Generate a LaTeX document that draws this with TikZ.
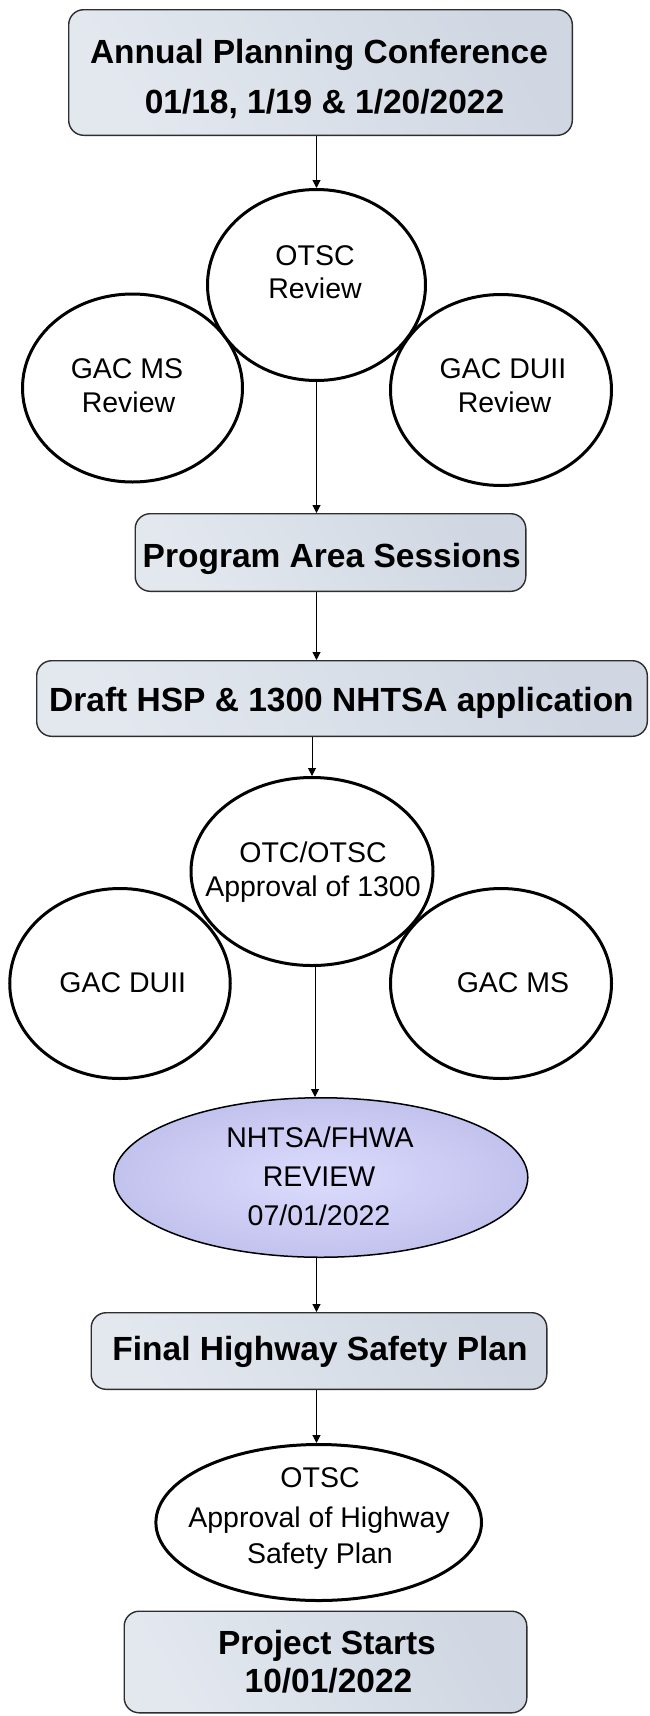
\documentclass[tikz,border=0pt]{standalone}
\usepackage{fontspec}
\setmainfont{Liberation Sans}
\usetikzlibrary{shapes.geometric,arrows.meta}
\definecolor{boxA}{HTML}{E3E8EF}
\definecolor{boxB}{HTML}{D0D7E2}
\definecolor{lavIn}{HTML}{DCDCFE}
\definecolor{lavOut}{HTML}{C2C2EE}
\definecolor{edgegray}{HTML}{2E2E2E}
\begin{document}
\begin{tikzpicture}[x=1pt,y=-1pt,
  boxnode/.style={rectangle, draw=edgegray, line width=1.4pt, rounded corners=15pt,
    inner sep=0pt, left color=boxA, right color=boxB, shading angle=120},
  ringnode/.style={ellipse, draw=black, line width=3pt, fill=white, inner sep=0pt},
  lavnode/.style={ellipse, draw=black, line width=1.5pt, inner sep=0pt,
    inner color=lavIn, outer color=lavOut},
  bold/.style={anchor=base, inner sep=0pt, font=\fontsize{33.5}{40}\selectfont\bfseries},
  reg/.style={anchor=base, inner sep=0pt, font=\fontsize{28.5}{34}\selectfont},
  arr/.style={draw=black, line width=1pt, -{Triangle[length=8pt,width=8pt]}}]
\useasboundingbox (0,0) rectangle (649,1716);
\fill[white] (0,0) rectangle (649,1716);

% boxes
\node[boxnode, minimum width=503.6pt, minimum height=125.6pt] (b1) at (320.5,72.5) {};
\node[boxnode, minimum width=390.6pt, minimum height=77.6pt] (b2) at (330.5,552.5) {};
\node[boxnode, minimum width=610.6pt, minimum height=75.6pt] (b3) at (342,698.5) {};
\node[boxnode, minimum width=455.6pt, minimum height=76.6pt] (b4) at (319,1351) {};
\node[boxnode, minimum width=402.6pt, minimum height=101.6pt] (b5) at (325.5,1662) {};

% group 1 circles
\node[ringnode, minimum width=220pt, minimum height=188pt] (c2) at (132.5,388) {};
\node[ringnode, minimum width=221pt, minimum height=191pt] (c3) at (501,390) {};
\node[ringnode, minimum width=218pt, minimum height=191pt] (c1) at (316.5,285) {};

% group 2 circles
\node[ringnode, minimum width=220.5pt, minimum height=190pt] (c5) at (120,983.5) {};
\node[ringnode, minimum width=221pt, minimum height=190pt] (c6) at (501,983.5) {};
\node[ringnode, minimum width=242pt, minimum height=188pt] (c4) at (312,871.5) {};

% ellipses
\node[lavnode, minimum width=414pt, minimum height=159.5pt] (e1) at (320.8,1177.5) {};
\node[ringnode, minimum width=325.6pt, minimum height=156pt] (e2) at (318.7,1522.5) {};

% texts
\node[bold] (t1a) at (319,63) {Annual Planning Conference};
\node[bold] (t1b) at (324.5,113) {01/18, 1/19 \& 1/20/2022};
\node[bold] (t2) at (331.7,567) {Program Area Sessions};
\node[bold] (t3) at (341.5,711) {Draft HSP \& 1300 NHTSA application};
\node[bold] (t4) at (320,1360) {Final Highway Safety Plan};
\node[bold] (t5a) at (327,1654) {Project Starts};
\node[bold] (t5b) at (328.5,1692) {10/01/2022};

\node[reg] (tc1a) at (315,265) {OTSC};
\node[reg] (tc1b) at (315,298) {Review};
\node[reg] (tc2a) at (127,378) {GAC MS};
\node[reg] (tc2b) at (128.5,412) {Review};
\node[reg] (tc3a) at (503,378) {GAC DUII};
\node[reg] (tc3b) at (504.5,412) {Review};
\node[reg] (tc4a) at (313,862) {OTC/OTSC};
\node[reg] (tc4b) at (313,896) {Approval of 1300};
\node[reg] (tc5) at (122.8,992) {GAC DUII};
\node[reg] (tc6) at (513,992) {GAC MS};
\node[reg] (te1a) at (320,1147) {NHTSA/FHWA};
\node[reg] (te1b) at (319,1186) {REVIEW};
\node[reg] (te1c) at (319,1225) {07/01/2022};
\node[reg] (te2a) at (320,1487) {OTSC};
\node[reg] (te2b) at (319,1527) {Approval of Highway};
\node[reg] (te2c) at (320,1563) {Safety Plan};

% connectors
\draw[arr] (c1.north |- b1.south) -- (c1.north);
\draw[arr] (c1.south) -- (c1.south |- b2.north);
\draw[arr] (b2.south -| c1.south) -- (b3.north -| c1.south);
\draw[arr] (c4.north |- b3.south) -- (c4.north);
\draw[arr] ([xshift=3pt]c4.south) -- ([xshift=3pt]c4.south |- e1.north);
\draw[arr] (e1.south -| c1.south) -- (b4.north -| c1.south);
\draw[arr] (b4.south -| c1.south) -- (e2.north -| c1.south);
\end{tikzpicture}
\end{document}
